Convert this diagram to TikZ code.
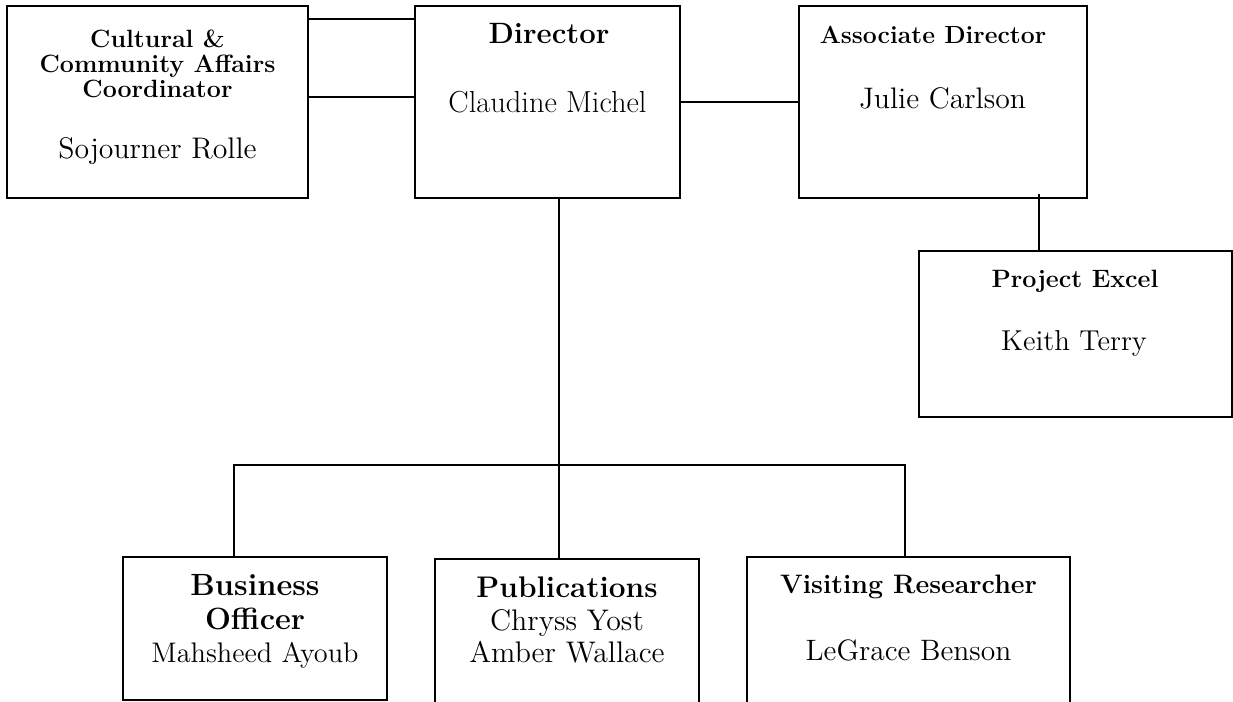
\documentclass[tikz,border=0pt]{standalone}

\tikzset{
  unit/.style={draw,line width=1pt,inner sep=0pt},
  ttl/.style 2 args={font=\bfseries\fontsize{#1}{#2}\selectfont,align=center,anchor=base,inner sep=0pt},
  nm/.style 2 args={font=\fontsize{#1}{#2}\selectfont,align=center,anchor=base,inner sep=0pt}
}

\begin{document}
\begin{tikzpicture}[x=0.5pt,y=-0.5pt,line width=1pt]
  \clip (0,0) rectangle (1233,702);

  % top row
  \node[unit,minimum width=150.5pt,minimum height=96pt] (cult) at (157.5,102) {};
  \node[unit,minimum width=132.5pt,minimum height=96pt] (dir) at (547.5,102) {};
  \node[unit,minimum width=144pt,minimum height=96pt] (assoc) at (943,102) {};
  \node[unit,minimum width=156.5pt,minimum height=83pt] (proj) at (1075.5,334) {};

  \node[ttl={12.5}{12.5}] (cultT) at (157.5,97.5) {Cultural \&\\Community Affairs\\Coordinator};
  \node[nm={14.9}{16}] (cultN) at (157.5,158) {Sojourner Rolle};
  \node[ttl={14.7}{16}] (dirT) at (549,43) {Director};
  \node[nm={15.2}{16}] (dirN) at (547.5,112) {Claudine Michel};
  \node[ttl={12.4}{13}] (assocT) at (933,43) {Associate Director};
  \node[nm={14.85}{16}] (assocN) at (942.5,108) {Julie Carlson};
  \node[ttl={12.55}{13}] (projT) at (1075,287) {Project Excel};
  \node[nm={14.4}{16}] (projN) at (1074,350) {Keith Terry};

  % bottom row
  \node[unit,minimum width=132pt,minimum height=71.5pt] (bus) at (255,628.5) {};
  \node[unit,minimum width=132pt,minimum height=73pt] (pub) at (567,632) {};
  \node[unit,minimum width=161.5pt,minimum height=74pt] (vis) at (908.5,631) {};

  \node[ttl={15.35}{17}] (busT) at (255,629.5) {Business\\Officer};
  \node[nm={14.15}{16}] (busN) at (255,662) {Mahsheed Ayoub};
  \node[ttl={14.9}{16}] (pubT) at (567,597) {Publications};
  \node[nm={14.9}{16}] (pubN) at (567,662) {Chryss Yost\\Amber Wallace};
  \node[ttl={13.35}{14}] (visT) at (908.5,593) {Visiting Researcher};
  \node[nm={14.75}{16}] (visN) at (908.5,660) {LeGrace Benson};

  % links
  \draw ([yshift=-7pt]cult.north east) -- ([yshift=-7pt]dir.north west);
  \draw ([yshift=-46pt]cult.north east) -- ([yshift=-46pt]dir.north west);
  \draw (dir.east) -- (assoc.west);
  \draw ([xshift=48pt,yshift=2.5pt]assoc.south) -- ([xshift=48pt]assoc.south |- proj.north);
  \draw ([xshift=5.75pt]dir.south) -- ([xshift=5.75pt]dir.south |- pub.north);
  \draw ([xshift=-10.5pt]bus.north) -- ++(0,-91) -| ([xshift=-2pt]vis.north);
\end{tikzpicture}
\end{document}
